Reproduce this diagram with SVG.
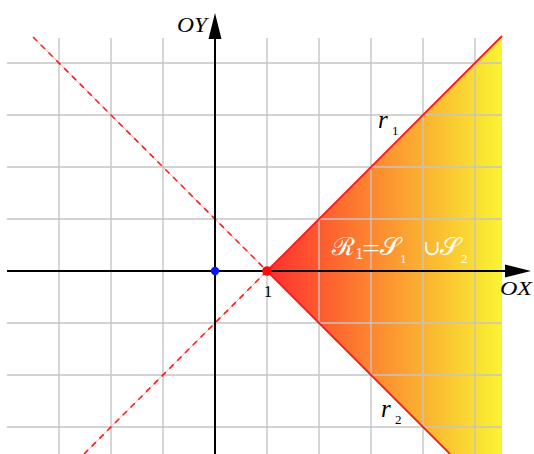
<svg xmlns="http://www.w3.org/2000/svg" width="534" height="454" viewBox="0 0 534 454">
<style>
.grid line{stroke:#c4c4c4;stroke-width:1.4}
.axis{stroke:#000;stroke-width:2}
.ray{stroke:#ff1a1a;stroke-width:1.8;fill:none}
.lab{font-family:"Liberation Serif","DejaVu Serif",serif;font-style:italic;fill:#000}
.num{font-family:"Liberation Serif","DejaVu Serif",serif;fill:#000}
.reg{font-family:"DejaVu Serif","Liberation Serif",serif;fill:#fff}
.regn{font-family:"Liberation Serif","DejaVu Serif",serif;fill:#fff}
</style>
<defs>
<linearGradient id="g" x1="267" y1="0" x2="502" y2="0" gradientUnits="userSpaceOnUse">
<stop offset="0" stop-color="#ff2e2e"/>
<stop offset="1" stop-color="#f9f433"/>
</linearGradient>
</defs>
<rect width="534" height="454" fill="#fff"/>
<g id="region">
<polygon points="267,271 502,36 502,506" fill="url(#g)"/>
</g>
<g class="grid" id="grid">
<line x1="59" y1="38" x2="59" y2="454"/>
<line x1="111" y1="38" x2="111" y2="454"/>
<line x1="163" y1="38" x2="163" y2="454"/>
<line x1="267" y1="38" x2="267" y2="454"/>
<line x1="319" y1="38" x2="319" y2="454"/>
<line x1="371" y1="38" x2="371" y2="454"/>
<line x1="423" y1="38" x2="423" y2="454"/>
<line x1="475" y1="38" x2="475" y2="454"/>
<line x1="7" y1="63" x2="502" y2="63"/>
<line x1="7" y1="115" x2="502" y2="115"/>
<line x1="7" y1="167" x2="502" y2="167"/>
<line x1="7" y1="219" x2="502" y2="219"/>
<line x1="7" y1="323" x2="502" y2="323"/>
<line x1="7" y1="375" x2="502" y2="375"/>
<line x1="7" y1="427" x2="502" y2="427"/>
</g>
<g id="connectors">
<line x1="33" y1="37" x2="267" y2="271" stroke="#ff8080" stroke-width="0.6"/>
<line x1="267" y1="271" x2="84" y2="454" stroke="#ff8080" stroke-width="0.6"/>
<line x1="33" y1="37" x2="267" y2="271" stroke="#ff1a1a" stroke-width="1.6" stroke-dasharray="6,5"/>
<line x1="267" y1="271" x2="84" y2="454" stroke="#ff1a1a" stroke-width="1.6" stroke-dasharray="6,5"/>
<line class="ray" x1="267" y1="271" x2="502" y2="36"/>
<line class="ray" x1="267" y1="271" x2="450" y2="454"/>
<line class="axis" x1="7" y1="271" x2="508" y2="271"/>
<polygon points="531,271 505,264.5 505,277.5" fill="#000"/>
<line class="axis" x1="215" y1="454" x2="215" y2="35"/>
<polygon points="215,13 208.5,39 221.5,39" fill="#000"/>
</g>
<g id="points">
<circle cx="215" cy="271" r="4.2" fill="#0a14ff"/>
<circle cx="267" cy="271" r="4.8" fill="#ff0a0a"/>
</g>
<g id="labels">
<text class="lab" x="177" y="32" font-size="21" textLength="30" lengthAdjust="spacingAndGlyphs">OY</text>
<text class="lab" x="500" y="295" font-size="19" textLength="32" lengthAdjust="spacingAndGlyphs">OX</text>
<text class="num" x="268" y="297" font-size="17" text-anchor="middle">1</text>
<text class="lab" x="378" y="128" font-size="25">r</text>
<text class="num" x="392" y="135" font-size="13">1</text>
<text class="lab" x="381" y="417" font-size="25">r</text>
<text class="num" x="395" y="424" font-size="13">2</text>
<g id="region-label">
<text class="reg" x="332" y="255" font-size="25" textLength="23" lengthAdjust="spacingAndGlyphs">ℛ</text>
<text class="regn" x="355" y="259" font-size="17">1</text>
<text class="regn" x="362" y="256" font-size="24" textLength="18" lengthAdjust="spacingAndGlyphs">=</text>
<text class="reg" x="380" y="255" font-size="25" textLength="20" lengthAdjust="spacingAndGlyphs">𝒮</text>
<text class="regn" x="400" y="263" font-size="13">1</text>
<text class="regn" x="423" y="255" font-size="21">∪</text>
<text class="reg" x="440" y="255" font-size="25" textLength="20" lengthAdjust="spacingAndGlyphs">𝒮</text>
<text class="regn" x="461" y="263" font-size="13">2</text>
</g>
</g>
</svg>
